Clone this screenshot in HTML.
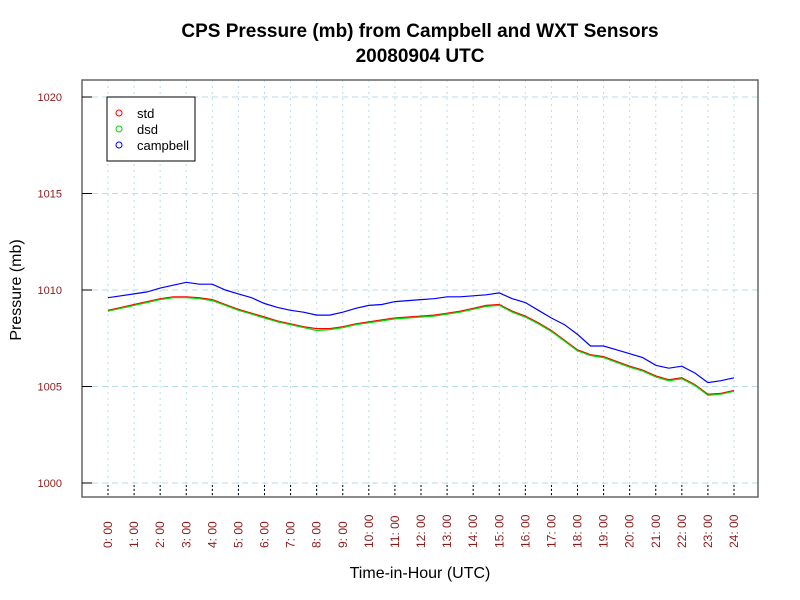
<!DOCTYPE html>
<html><head><meta charset="utf-8"><style>
body{margin:0;background:#fff;}
svg{display:block;font-family:"Liberation Sans",sans-serif;}
</style></head><body>
<svg id="chart" width="800" height="600">
<rect width="800" height="600" fill="#fff"/>
<text x="420" y="37" text-anchor="middle" font-size="19" font-weight="bold">CPS Pressure (mb) from Campbell and WXT Sensors</text>
<text x="420" y="62" text-anchor="middle" font-size="19" font-weight="bold">20080904  UTC</text>
<g id="grid"></g>
<g id="series"></g>
<rect x="82" y="80" width="676" height="417" fill="none" stroke="#666" stroke-width="1.5"/>
<g id="axes"></g>
<text x="420" y="578" text-anchor="middle" font-size="16">Time-in-Hour (UTC)</text>
<text transform="translate(21,290) rotate(-90)" text-anchor="middle" font-size="16">Pressure (mb)</text>
<g>
<rect x="107" y="97" width="88" height="64" fill="#fff" stroke="#000"/>
<g><circle cx="119" cy="113" r="3" fill="none" stroke="#f00"/><text x="137" y="118" font-size="13">std</text></g>
<g><circle cx="119" cy="129" r="3" fill="none" stroke="#0d0"/><text x="137" y="134" font-size="13">dsd</text></g>
<g><circle cx="119" cy="145" r="3" fill="none" stroke="#00f"/><text x="137" y="150" font-size="13">campbell</text></g>
</g>
</svg>
<script>
const hours=[0,0.5,1,1.5,2,2.5,3,3.5,4,4.5,5,5.5,6,6.5,7,7.5,8,8.5,9,9.5,10,10.5,11,11.5,12,12.5,13,13.5,14,14.5,15,15.5,16,16.5,17,17.5,18,18.5,19,19.5,20,20.5,21,21.5,22,22.5,23,23.5,24];
const campbell=[1009.6,1009.7,1009.8,1009.9,1010.1,1010.25,1010.4,1010.3,1010.3,1010.0,1009.8,1009.6,1009.3,1009.1,1008.95,1008.85,1008.7,1008.7,1008.85,1009.05,1009.2,1009.25,1009.4,1009.45,1009.5,1009.55,1009.65,1009.65,1009.7,1009.75,1009.85,1009.55,1009.35,1008.95,1008.55,1008.2,1007.7,1007.1,1007.1,1006.9,1006.7,1006.5,1006.1,1005.95,1006.05,1005.7,1005.2,1005.3,1005.45];
const std=[1008.95,1009.1,1009.25,1009.4,1009.55,1009.65,1009.65,1009.6,1009.5,1009.25,1009.0,1008.8,1008.6,1008.4,1008.25,1008.1,1008.0,1008.0,1008.1,1008.25,1008.35,1008.45,1008.55,1008.6,1008.65,1008.7,1008.8,1008.9,1009.05,1009.2,1009.25,1008.9,1008.65,1008.3,1007.9,1007.4,1006.9,1006.65,1006.55,1006.3,1006.05,1005.85,1005.55,1005.35,1005.45,1005.1,1004.6,1004.65,1004.8];
const dsd=[1008.9,1009.05,1009.2,1009.35,1009.5,1009.6,1009.6,1009.55,1009.45,1009.2,1008.95,1008.75,1008.55,1008.35,1008.2,1008.05,1007.9,1007.95,1008.05,1008.2,1008.3,1008.4,1008.5,1008.55,1008.6,1008.65,1008.75,1008.85,1009.0,1009.15,1009.2,1008.85,1008.6,1008.25,1007.85,1007.35,1006.85,1006.6,1006.5,1006.25,1006.0,1005.8,1005.5,1005.3,1005.4,1005.05,1004.55,1004.6,1004.75];
const yTicks=[1000,1005,1010,1015,1020];
const xTicks=[0,1,2,3,4,5,6,7,8,9,10,11,12,13,14,15,16,17,18,19,20,21,22,23,24];
const xs=h=>108+h*(734-108)/24;
const ys=v=>483-(v-1000)*(483-97)/20;
const NS='http://www.w3.org/2000/svg';
const grid=document.getElementById('grid'),axes=document.getElementById('axes'),ser=document.getElementById('series');
function mk(tag,attrs,parent){const e=document.createElementNS(NS,tag);for(const k in attrs)e.setAttribute(k,attrs[k]);parent.appendChild(e);return e;}
yTicks.forEach(v=>{
  const g=mk('line',{x1:82,x2:758,y1:ys(v),y2:ys(v),stroke:'#b8dcea','stroke-dasharray':'6,4'},grid);
  
  
  const t=mk('line',{x1:82,x2:92,y1:ys(v),y2:ys(v),stroke:'#000'},axes);
  
  
  const l=mk('text',{x:62,y:ys(v)+4,'text-anchor':'end','font-size':11,fill:'#8b1a1a'},axes);
  l.textContent=v;
  
  
});
xTicks.forEach(h=>{
  const g=mk('line',{x1:xs(h),x2:xs(h),y1:80,y2:497,stroke:'#b8dcea','stroke-dasharray':'2,4'},grid);
  
  
  const t=mk('line',{x1:xs(h),x2:xs(h),y1:485,y2:497,stroke:'#000','stroke-dasharray':'2,2'},axes);
  
  
  const l=mk('text',{transform:`translate(${xs(h)+4},548) rotate(-90)`,'font-size':12,fill:'#8b1a1a','font-family':'Liberation Sans'},axes);
  l.textContent=h+': 00';
  
  
});
function line(vals,color,name){
  let d='';
  vals.forEach((v,i)=>{d+=(i?'L':'M')+xs(hours[i]).toFixed(1)+','+ys(v).toFixed(1);});
  const p=mk('path',{d:d,fill:'none',stroke:color,'stroke-width':1.2},ser);
  
  
}
line(campbell,'#00f','campbell-line');
line(std,'#f00','std-line');
line(dsd,'#0d0','dsd-line');
</script>
</body></html>
